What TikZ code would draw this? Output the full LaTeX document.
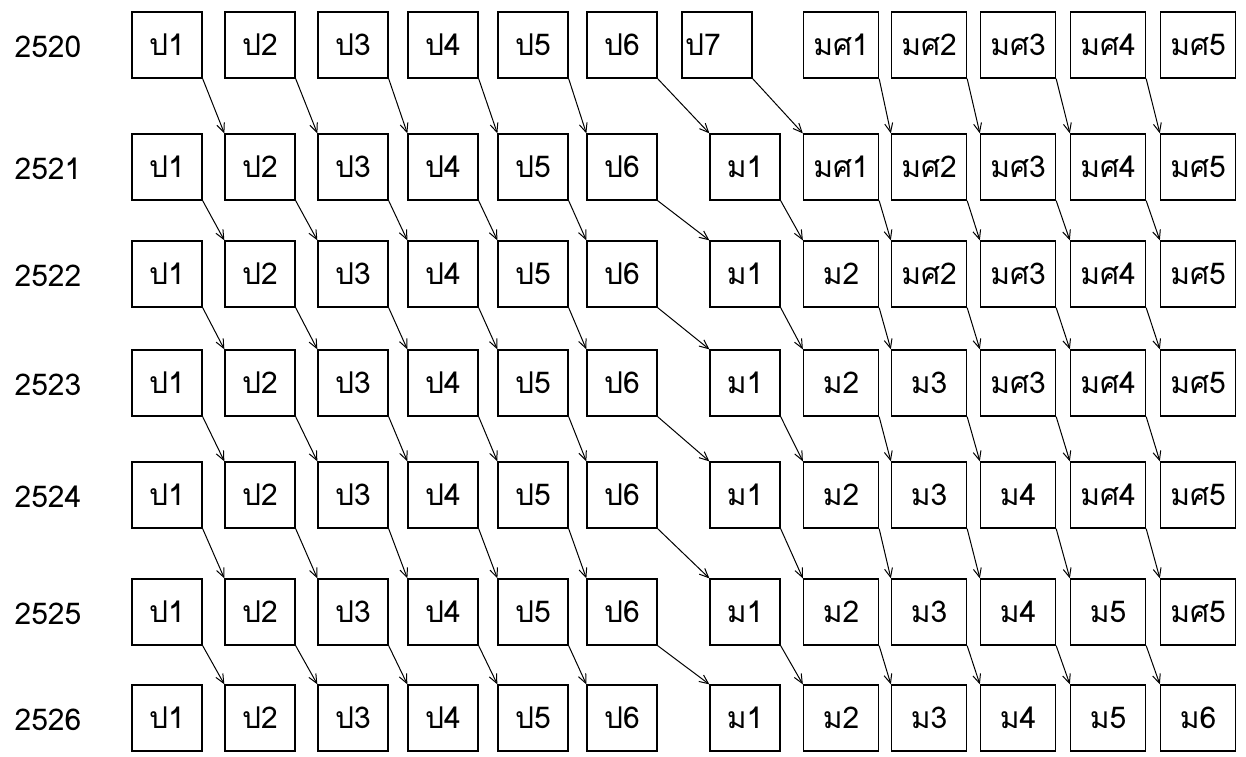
\documentclass[tikz,border=0pt]{standalone}
\usepackage{fontspec}
\newfontfamily\thaifont[Script=Thai]{Loma}
\usetikzlibrary{arrows.meta}
\begin{document}
\begin{tikzpicture}[x=1pt,y=-1pt,
  lab/.style={font=\thaifont\fontsize{30}{32}\selectfont},
  box/.style={lab, draw, line width=1.3pt, minimum height=66pt, inner sep=0pt},
  flow/.style={line width=1pt, -{Straight Barb[length=9pt,width=8pt]}}]
\useasboundingbox[fill=white] (0,0) rectangle (1246,756);
\def\colx{{167,260,353,443,533,622,745,841,929,1018,1108,1198}}
\def\rowy{{45,167,274,383,495,612,718}}
\foreach \yr [count=\r from 0] in {2520,2521,2522,2523,2524,2525,2526} {
  \pgfmathsetmacro\ry{\rowy[\r]}
  \node[lab] (y\r) at (48,\ry+2) {\yr};
}
\foreach \r/\labs in {
  0/{ป1,ป2,ป3,ป4,ป5,ป6,ป7,มศ1,มศ2,มศ3,มศ4,มศ5},
  1/{ป1,ป2,ป3,ป4,ป5,ป6,ม1,มศ1,มศ2,มศ3,มศ4,มศ5},
  2/{ป1,ป2,ป3,ป4,ป5,ป6,ม1,ม2,มศ2,มศ3,มศ4,มศ5},
  3/{ป1,ป2,ป3,ป4,ป5,ป6,ม1,ม2,ม3,มศ3,มศ4,มศ5},
  4/{ป1,ป2,ป3,ป4,ป5,ป6,ม1,ม2,ม3,ม4,มศ4,มศ5},
  5/{ป1,ป2,ป3,ป4,ป5,ป6,ม1,ม2,ม3,ม4,ม5,มศ5},
  6/{ป1,ป2,ป3,ป4,ป5,ป6,ม1,ม2,ม3,ม4,ม5,ม6}} {
  \foreach \l [count=\c] in \labs {
    \pgfmathsetmacro\cx{\colx[\c-1]}
    \pgfmathsetmacro\ry{\rowy[\r]}
    \pgfmathsetmacro\bw{\c>7?75:70}
    \ifnum\r=0 \ifnum\c=7 \def\cx{717}\fi\fi
    \ifnum\r=0 \ifnum\c=7
      \node[box, minimum width=\bw pt, text width=64pt, align=left, inner xsep=3pt] (b\r-\c) at (\cx,\ry) {\l};
    \else
      \node[box, minimum width=\bw pt] (b\r-\c) at (\cx,\ry) {\l};
    \fi
    \else
      \node[box, minimum width=\bw pt] (b\r-\c) at (\cx,\ry) {\l};
    \fi
  }
}
\foreach \r in {0,...,5} {
  \foreach \c in {1,...,11} {
    \pgfmathtruncatemacro\nextr{\r+1}
    \pgfmathtruncatemacro\nextc{\c+1}
    \draw[flow] (b\r-\c.south east) -- (b\nextr-\nextc.north west);
  }
}
\end{tikzpicture}
\end{document}
